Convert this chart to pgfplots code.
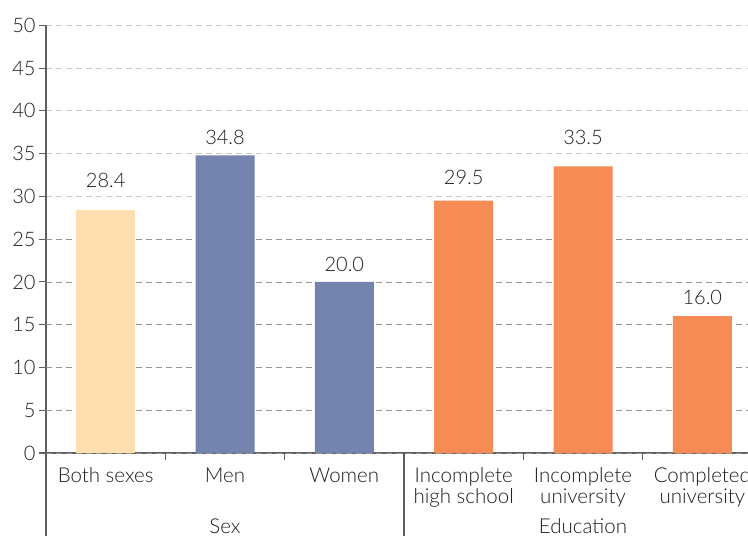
\documentclass[border=0pt]{standalone}
\usepackage{fontspec}
\setmainfont{Lato Light}
\usepackage{pgfplots}
\pgfplotsset{compat=1.18}
\definecolor{peach}{RGB}{255,223,176}
\definecolor{slate}{RGB}{116,130,174}
\definecolor{orng}{RGB}{246,139,86}
\definecolor{axgray}{RGB}{95,95,95}
\definecolor{gridlight}{RGB}{200,200,200}
\definecolor{griddark}{RGB}{150,150,150}
\definecolor{txt}{RGB}{30,30,30}
\begin{document}
\begin{tikzpicture}[font=\fontsize{20.5bp}{21bp}\selectfont, text=txt]
\useasboundingbox (0,0) rectangle (748bp,536bp);
\clip (0,0) rectangle (748bp,536bp);
\begin{axis}[
  at={(46bp,83bp)}, anchor=south west,
  scale only axis, width=716bp, height=427.7bp,
  xmin=-0.5, xmax=5.5, ymin=0, ymax=50,
  axis x line=bottom, axis y line=left,
  axis line style={-, axgray, line width=1.3bp},
  tick style={axgray, line width=1.1bp},
  tick align=outside, major tick length=7bp,
  ytick={30,35,40,45,50},
  ymajorgrids,
  major grid style={gridlight, dash pattern=on 6bp off 4bp, line width=0.8bp},
  extra y ticks={0,5,10,15,20,25},
  extra y tick style={grid=major, major grid style={griddark, dash pattern=on 6bp off 4bp, line width=0.8bp}},
  yticklabel style={font=\fontsize{20bp}{21bp}\selectfont, text=txt},
  /pgf/number format/assume math mode=true,
  xtick={0.5,1.5,3.5,4.5},
  xticklabels={},
  extra x ticks={0,1,2,3,4,5},
  extra x tick labels={Both sexes, Men, Women, Incomplete\\high school, Incomplete\\university, Completed\\university},
  extra x tick style={major tick length=0pt, xticklabel style={align=center, anchor=north, yshift=-11bp, font=\fontsize{20.5bp}{21bp}\selectfont, text=txt}},
  clip=false,
]
\addplot[ybar, bar shift=0pt, bar width=59bp, fill=peach, draw=none] coordinates {(0,28.4)};
\addplot[ybar, bar shift=0pt, bar width=59bp, fill=slate, draw=none] coordinates {(1,34.8) (2,20.0)};
\addplot[ybar, bar shift=0pt, bar width=59bp, fill=orng, draw=none] coordinates {(3,29.5) (4,33.5) (5,16.0)};
\addplot[draw=none, mark=none, nodes near coords, point meta=explicit symbolic,
  nodes near coords style={anchor=center, inner sep=0pt, text=txt, font=\fontsize{20bp}{21bp}\selectfont}]
  coordinates {(0,31.88) [28.4] (1,36.91) [34.8] (2,22.06) [20.0] (3,32.23) [29.5] (4,36.91) [33.5] (5,18.20) [16.0]};
\draw[axgray, line width=1.3bp] (axis cs:-0.5,0) -- ([yshift=-100bp]axis cs:-0.5,0);
\draw[axgray, line width=1.1bp] (axis cs:2.5,0) -- ([yshift=-100bp]axis cs:2.5,0);
\node[anchor=base] at ([yshift=-80bp]axis cs:1,0) {Sex};
\node[anchor=base] at ([yshift=-80bp]axis cs:4,0) {Education};
\end{axis}
\end{tikzpicture}
\end{document}
